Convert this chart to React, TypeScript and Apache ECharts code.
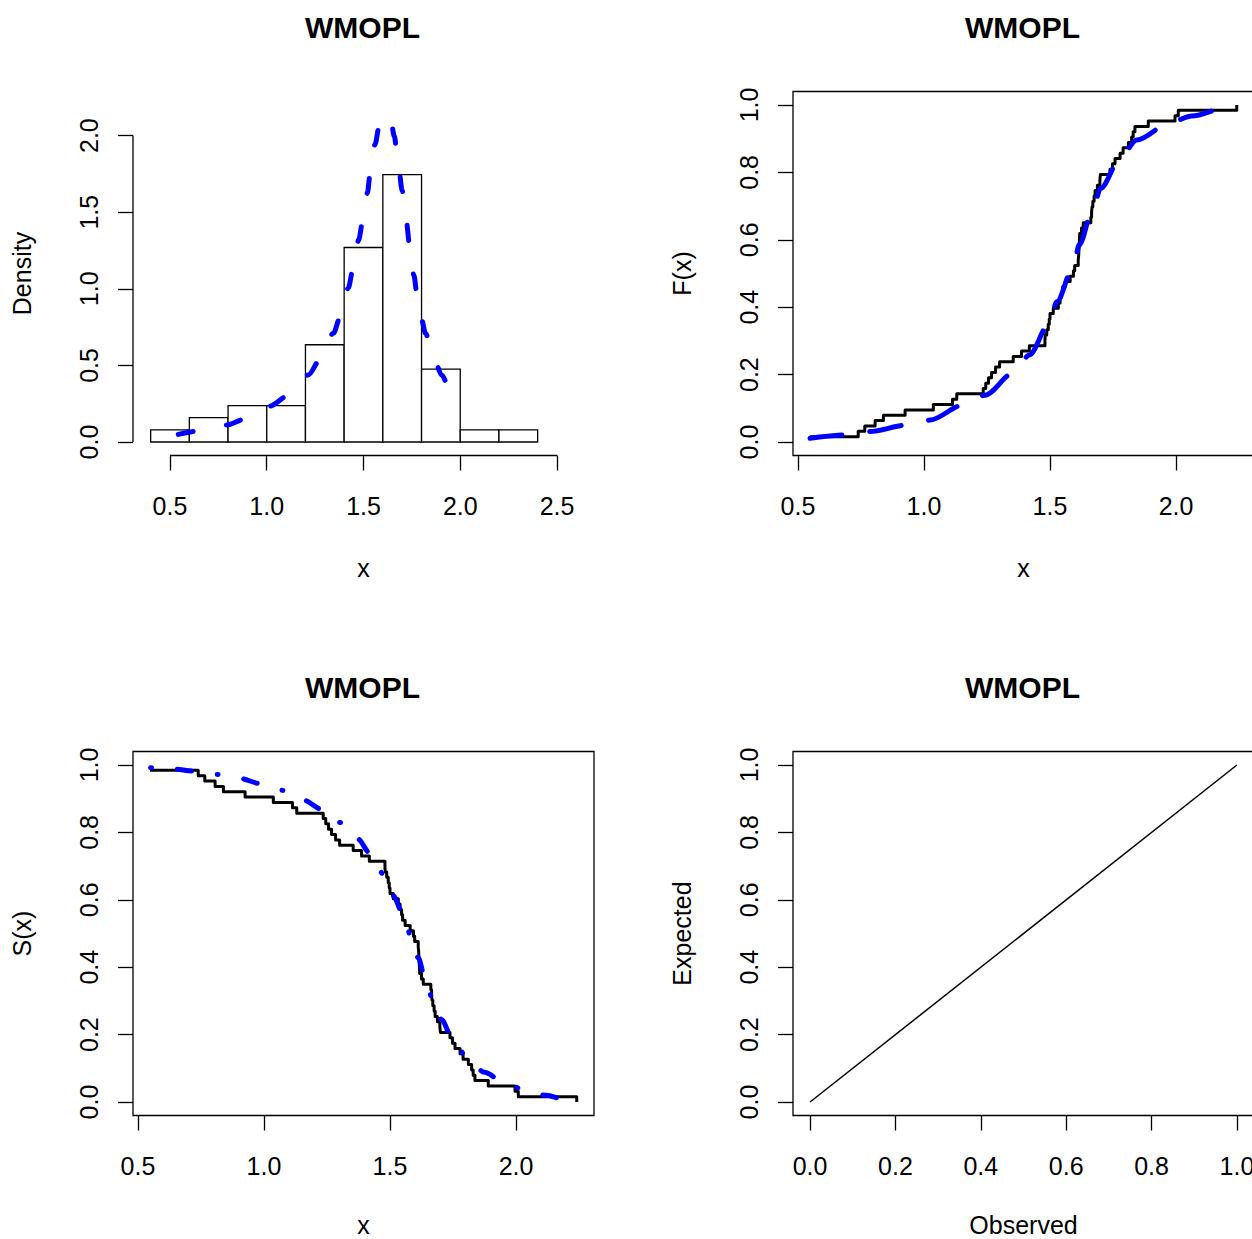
import React, { useEffect, useRef } from "react";
import * as echarts from "echarts";

const FONT = "'Liberation Sans', Arial, Helvetica, sans-serif";
const TITLE = "WMOPL";

// Histogram (density scale)
const histBreaks = [0.4, 0.6, 0.8, 1.0, 1.2, 1.4, 1.6, 1.8, 2.0, 2.2, 2.4];
const histDensity = [0.0794, 0.1587, 0.2381, 0.2381, 0.6349, 1.2698, 1.746, 0.4762, 0.0794, 0.0794];

// Fitted density curve
const densX = [0.543, 0.646, 0.793, 0.888, 1.017, 1.111, 1.215, 1.275, 1.344, 1.382, 1.421, 1.447, 1.475, 1.496, 1.52, 1.534, 1.559, 1.582, 1.612, 1.64, 1.659, 1.68, 1.7, 1.72, 1.74, 1.76, 1.78, 1.8, 1.82, 1.861, 1.904, 1.95, 1.982, 2.016];
const densY = [0.05, 0.072, 0.111, 0.15, 0.235, 0.303, 0.438, 0.536, 0.71, 0.824, 1.004, 1.135, 1.32, 1.44, 1.625, 1.745, 1.941, 2.065, 2.13, 2.115, 1.996, 1.81, 1.64, 1.45, 1.27, 1.09, 0.93, 0.8, 0.71, 0.558, 0.438, 0.33, 0.275, 0.231];

const sample = [
  0.548, 0.739, 0.765, 0.806, 0.839, 0.925, 1.037, 1.113, 1.13, 1.235,
  1.245, 1.256, 1.268, 1.284, 1.3, 1.354, 1.387, 1.418, 1.48, 1.481,
  1.487, 1.493, 1.497, 1.5, 1.513, 1.533, 1.54, 1.546, 1.55, 1.56,
  1.58, 1.593, 1.598, 1.612, 1.614, 1.615, 1.616, 1.617, 1.618, 1.625,
  1.632, 1.662, 1.665, 1.667, 1.67, 1.675, 1.679, 1.688, 1.698, 1.7,
  1.738, 1.748, 1.758, 1.778, 1.79, 1.811, 1.824, 1.83, 1.837, 1.89,
  1.996, 2.009, 2.241,
];

// Fitted CDF
const fitCdfX = [0.548, 0.693, 0.786, 0.931, 1.024, 1.156, 1.242, 1.357, 1.418, 1.497, 1.527, 1.593, 1.616, 1.669, 1.701, 1.784, 1.844, 1.983, 2.062, 2.212, 2.241];
const fitCdfY = [0.011, 0.021, 0.031, 0.05, 0.065, 0.11, 0.139, 0.206, 0.258, 0.352, 0.416, 0.52, 0.585, 0.688, 0.753, 0.849, 0.896, 0.95, 0.967, 0.995, 0.997];

// Fitted survival
const fitSurvX = [0.55, 0.64, 0.719, 0.815, 0.905, 0.984, 1.07, 1.156, 1.228, 1.304, 1.371, 1.423, 1.473, 1.513, 1.549, 1.582, 1.612, 1.639, 1.669, 1.705, 1.744, 1.802, 1.875, 1.944, 2.03, 2.119, 2.194, 2.241];
const fitSurvY = [0.992, 0.988, 0.982, 0.972, 0.96, 0.945, 0.925, 0.896, 0.869, 0.829, 0.781, 0.736, 0.677, 0.612, 0.562, 0.495, 0.428, 0.368, 0.306, 0.244, 0.194, 0.136, 0.088, 0.063, 0.037, 0.02, 0.007, 0.004];

// P-P reference line
const ppObserved = [0, 1];
const ppExpected = [0, 1];

// Tick labels
const histXTicks = [0.5, 1.0, 1.5, 2.0, 2.5];
const histYTicks = [0.0, 0.5, 1.0, 1.5, 2.0];
const cdfXTicks = [0.5, 1.0, 1.5, 2.0];
const probTicks = [0.0, 0.2, 0.4, 0.6, 0.8, 1.0];

const BLUE = "#0000ff";

const App: React.FC = () => {
  const ref = useRef<HTMLDivElement>(null);

  useEffect(() => {
    document.body.style.margin = "0";
    if (!ref.current) return;
    const chart = echarts.init(ref.current, undefined, { renderer: "svg" });

    const textStyle = { fontSize: 25, color: "#000", fontFamily: FONT };

    const mkAxis = (
      dim: "x" | "y",
      gridIndex: number,
      min: number,
      max: number,
      ticks: number[],
      name: string,
      nameGap: number
    ) => ({
      type: "value",
      gridIndex,
      min,
      max,
      position: dim === "y" ? "left" : "bottom",
      axisLine: { show: false, onZero: false },
      axisTick: {
        show: true,
        customValues: ticks,
        length: 15,
        inside: false,
        lineStyle: { color: "#000", width: 1.3 },
      },
      axisLabel: {
        show: true,
        customValues: ticks,
        formatter: (v: number) => v.toFixed(1),
        ...textStyle,
        rotate: dim === "y" ? 90 : 0,
        margin: dim === "y" ? 32 : 38,
      },
      splitLine: { show: false },
      name,
      nameLocation: "middle",
      nameGap,
      nameTextStyle: textStyle,
    });

    const grids = [
      { left: 133, top: 91.5, width: 461, height: 364, show: false },
      { left: 793, top: 91.5, width: 461, height: 364, show: true },
      { left: 133, top: 751.5, width: 461, height: 364, show: true },
      { left: 793, top: 751.5, width: 461, height: 364, show: true },
    ].map((g) => ({
      ...g,
      containLabel: false,
      outerBoundsMode: "none",
      borderColor: "#000",
      borderWidth: 1.3,
      backgroundColor: "transparent",
    }));

    const hxMin = 0.3088, hxMax = 2.6912, hyMin = -0.088, hyMax = 2.288;
    const cxMin = 0.4802, cxMax = 2.3095;

    const xAxis = [
      mkAxis("x", 0, hxMin, hxMax, histXTicks, "x", 100),
      mkAxis("x", 1, cxMin, cxMax, cdfXTicks, "x", 100),
      mkAxis("x", 2, cxMin, cxMax, cdfXTicks, "x", 97),
      mkAxis("x", 3, -0.04, 1.04, probTicks, "Observed", 97),
    ];
    const yAxis = [
      mkAxis("y", 0, hyMin, hyMax, histYTicks, "Density", 99),
      mkAxis("y", 1, -0.04, 1.04, probTicks, "F(x)", 99),
      mkAxis("y", 2, -0.04, 1.04, probTicks, "S(x)", 99),
      mkAxis("y", 3, -0.04, 1.04, probTicks, "Expected", 99),
    ];

    const n = sample.length;
    const blueLine = (dash: number[]) => ({
      color: BLUE,
      width: 5,
      type: dash,
      cap: "round",
      join: "round",
    });

    const series: any[] = [
      // Histogram bars
      {
        type: "custom",
        xAxisIndex: 0,
        yAxisIndex: 0,
        clip: false,
        z: 2,
        data: histDensity.map((d, i) => [histBreaks[i], histBreaks[i + 1], d]),
        encode: { x: [0, 1], y: 2 },
        renderItem: (_p: any, api: any) => {
          const p0 = api.coord([api.value(0), api.value(2)]);
          const p1 = api.coord([api.value(1), 0]);
          return {
            type: "rect",
            shape: { x: p0[0], y: p0[1], width: p1[0] - p0[0], height: p1[1] - p0[1] },
            style: { fill: "#fff", stroke: "#000", lineWidth: 1.3 },
          };
        },
      },
      // R-style axis lines for histogram panel
      {
        type: "line",
        xAxisIndex: 0,
        yAxisIndex: 0,
        clip: false,
        symbol: "none",
        lineStyle: { color: "#000", width: 1.3 },
        data: [
          [histXTicks[0], hyMin],
          [histXTicks[histXTicks.length - 1], hyMin],
        ],
      },
      {
        type: "line",
        xAxisIndex: 0,
        yAxisIndex: 0,
        clip: false,
        symbol: "none",
        lineStyle: { color: "#000", width: 1.3 },
        data: [
          [hxMin, histYTicks[0]],
          [hxMin, histYTicks[histYTicks.length - 1]],
        ],
      },
      // Fitted density
      {
        type: "line",
        xAxisIndex: 0,
        yAxisIndex: 0,
        symbol: "none",
        z: 5,
        smooth: 0.3,
        smoothMonotone: "x",
        lineStyle: blueLine([15, 34]),
        data: densX.map((x, i) => [x, densY[i]]),
      },
      // Empirical CDF
      {
        type: "line",
        xAxisIndex: 1,
        yAxisIndex: 1,
        symbol: "none",
        step: "end",
        z: 3,
        lineStyle: { color: "#000", width: 3, join: "round" },
        data: sample.map((x, i) => [x, (i + 1) / n]),
      },
      // Fitted CDF
      {
        type: "line",
        xAxisIndex: 1,
        yAxisIndex: 1,
        symbol: "none",
        z: 5,
        smooth: 0.3,
        smoothMonotone: "x",
        lineStyle: blueLine([32, 28]),
        data: fitCdfX.map((x, i) => [x, fitCdfY[i]]),
      },
      // Empirical survival
      {
        type: "line",
        xAxisIndex: 2,
        yAxisIndex: 2,
        symbol: "none",
        step: "end",
        z: 3,
        lineStyle: { color: "#000", width: 3, join: "round" },
        data: sample.map((x, i) => [x, 1 - (i + 1) / n]),
      },
      // Fitted survival
      {
        type: "line",
        xAxisIndex: 2,
        yAxisIndex: 2,
        symbol: "none",
        z: 5,
        smooth: 0.3,
        smoothMonotone: "x",
        lineStyle: blueLine([1, 26, 14, 26]),
        data: fitSurvX.map((x, i) => [x, fitSurvY[i]]),
      },
      // P-P line
      {
        type: "line",
        xAxisIndex: 3,
        yAxisIndex: 3,
        symbol: "none",
        lineStyle: { color: "#000", width: 1.5 },
        data: ppObserved.map((x, i) => [x, ppExpected[i]]),
      },
    ];

    const titleText = (x: number, y: number) => ({
      type: "text",
      x,
      y,
      style: {
        text: TITLE,
        align: "center",
        verticalAlign: "middle",
        fontSize: 30,
        fontWeight: "bold",
        fontFamily: FONT,
        fill: "#000",
      },
    });

    chart.setOption({
      animation: false,
      backgroundColor: "#fff",
      grid: grids,
      xAxis,
      yAxis,
      series,
      graphic: [
        titleText(362.5, 27),
        titleText(1022.5, 27),
        titleText(362.5, 687),
        titleText(1022.5, 687),
      ],
    });

    return () => chart.dispose();
  }, []);

  return <div ref={ref} style={{ width: 1252, height: 1239 }} />;
};

export default App;
